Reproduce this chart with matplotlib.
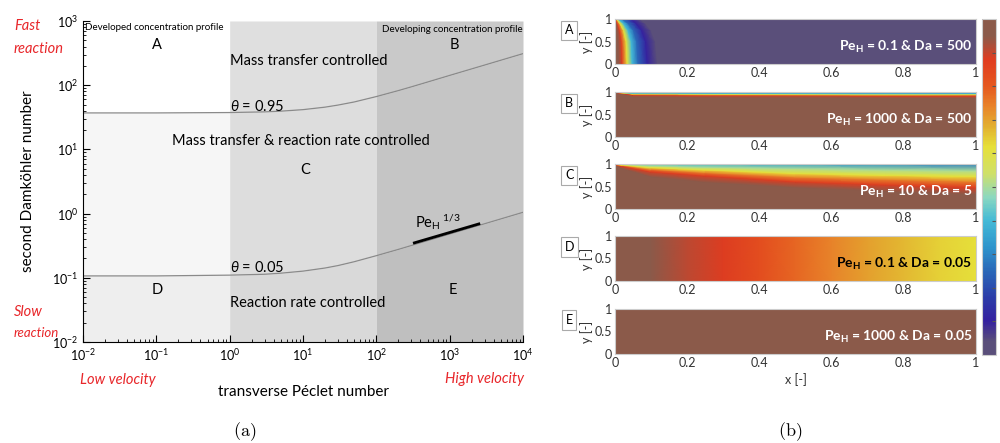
import numpy as np
import matplotlib
matplotlib.use("Agg")
import matplotlib.pyplot as plt
from matplotlib.colors import LinearSegmentedColormap

plt.rcParams['font.family'] = ['Lato', 'DejaVu Sans']
plt.rcParams['mathtext.fontset'] = 'custom'
plt.rcParams['mathtext.rm'] = 'Lato'
plt.rcParams['mathtext.it'] = 'Lato:italic'
plt.rcParams['mathtext.bf'] = 'Lato:bold'

# ---- (a) regime map data ----
pe = [0.01, 0.1, 1, 3, 5, 10, 20, 30, 50, 100, 200, 300, 500, 1000, 3000, 10000]
da_095 = [37, 37, 37.5, 38.4, 39.4, 41.6, 45.5, 49, 54.8, 66.5, 82.4, 94.2, 112, 142, 206, 310]
da_005 = [0.107, 0.107, 0.11, 0.1135, 0.118, 0.127, 0.142, 0.155, 0.178, 0.221, 0.277, 0.318,
          0.378, 0.479, 0.695, 1.047]
pe_slope = [330, 2500]
da_slope = [0.35, 0.69]

# ---- (b) concentration fields (value 1 = inlet, 0 = depleted) ----
# A: front position along x for each level, per height row
a_rows_y = [0, 0.5, 0.75, 0.9, 1.0]
a_levels = [1, 0.96, 0.88, 0.62, 0.4, 0.25, 0.1, 0.02, 0.0]
a_front_x = [
    [0, 0.010, 0.020, 0.034, 0.048, 0.064, 0.090, 0.118, 1],
    [0, 0.009, 0.018, 0.031, 0.045, 0.060, 0.085, 0.112, 1],
    [0, 0.006, 0.013, 0.024, 0.036, 0.051, 0.074, 0.100, 1],
    [0, 0.003, 0.007, 0.014, 0.024, 0.037, 0.059, 0.085, 1],
    [0, 0.0005, 0.0015, 0.004, 0.009, 0.02, 0.045, 0.07, 1],
]
# B: boundary layer at the top wall, height of each level per column
b_cols_x = [0, 0.05, 0.3, 1]
b_levels = [1, 1, 0.88, 0.62, 0.4]
b_top = [0.9, 0.3, 0.27, 0.25]
b_layer_y = [
    [0, 0, 0, 0],
    [0.99, 0.90, 0.88, 0.87],
    [0.994, 0.94, 0.925, 0.915],
    [0.997, 0.96, 0.95, 0.945],
    [0.999, 0.978, 0.972, 0.968],
]
# C
c_cols_x = [0, 0.02, 0.1, 0.25, 0.5, 0.75, 1.0]
c_levels = [1, 0.96, 0.88, 0.74, 0.62, 0.5]
c_top = [1, 0.55, 0.42, 0.38, 0.34, 0.31, 0.28]
c_layer_y = [
    [0, 0, 0, 0, 0, 0, 0],
    [0.985, 0.90, 0.72, 0.60, 0.48, 0.40, 0.33],
    [0.99, 0.95, 0.83, 0.74, 0.61, 0.54, 0.48],
    [0.993, 0.97, 0.88, 0.81, 0.71, 0.66, 0.61],
    [0.996, 0.98, 0.92, 0.87, 0.79, 0.75, 0.72],
    [0.998, 0.99, 0.96, 0.93, 0.90, 0.87, 0.85],
]
# D: varies along x only
d_x = [0, 0.1, 0.2, 0.3, 0.4, 0.5, 0.6, 0.7, 0.8, 0.9, 1.0]
d_c = [1, 0.96, 0.91, 0.88, 0.83, 0.78, 0.74, 0.70, 0.67, 0.64, 0.62]
# E: uniform
e_c = [[1, 1], [1, 1]]

panel_names = ['A', 'B', 'C', 'D', 'E']
panel_texts = [r'$\mathbf{Pe_H}$ = 0.1 & Da = 500', r'$\mathbf{Pe_H}$ = 1000 & Da = 500',
               r'$\mathbf{Pe_H}$ = 10 & Da = 5', r'$\mathbf{Pe_H}$ = 0.1 & Da = 0.05',
               r'$\mathbf{Pe_H}$ = 1000 & Da = 0.05']
panel_text_colors = ['white', 'white', 'white', 'black', 'white']

cmap = LinearSegmentedColormap.from_list('conc', [
    (0.0, '#5a4f7a'), (0.04, '#5a4f7a'), (0.10, '#3420a0'), (0.17, '#2c3ca8'),
    (0.25, '#2a68b8'), (0.32, '#2e94cc'), (0.40, '#44bad6'), (0.47, '#8cd8c0'),
    (0.54, '#cfe068'), (0.62, '#e6e03a'), (0.68, '#e2b030'), (0.74, '#e8842a'),
    (0.80, '#e5581f'), (0.88, '#e03c20'), (0.95, '#8b5a4a'), (1.0, '#8b5a4a')])

fig = plt.figure(figsize=(10, 4.43), dpi=100)

# ================= (a) =================
ax = fig.add_axes([0.083, 0.228, 0.44, 0.7246])
ax.set_xscale('log')
ax.set_yscale('log')
ax.set_xlim(1e-2, 1e4)
ax.set_ylim(1e-2, 1e3)

pe_a = np.array(pe)
lo = pe_a <= 1
mid = (pe_a >= 1) & (pe_a <= 100)
hi = pe_a >= 100
shades = [(lo, '#ffffff', '#f6f6f6', '#eeeeee'),
          (mid, '#dfdfdf', '#dddddd', '#d9d9d9'),
          (hi, '#c9c9c9', '#c5c5c5', '#bfbfbf')]
for m, top_c, mid_c, bot_c in shades:
    ax.fill_between(pe, da_095, 1e3, where=m, color=top_c, lw=0)
    ax.fill_between(pe, da_005, da_095, where=m, color=mid_c, lw=0)
    ax.fill_between(pe, 1e-2, da_005, where=m, color=bot_c, lw=0)

ax.plot(pe, da_095, color='#8a8a8a', lw=0.9)
ax.plot(pe, da_005, color='#8a8a8a', lw=0.9)
ax.plot(pe_slope, da_slope, color='black', lw=2)

fs = 10.5
ax.text(0.0106, 780, 'Developed concentration profile', fontsize=7, va='center')
ax.text(0.102, 423, 'A', fontsize=fs, ha='center', va='center')
ax.text(9800, 750, 'Developing concentration profile', fontsize=7, va='center', ha='right')
ax.text(1170, 423, 'B', fontsize=fs, ha='center', va='center')
ax.text(1, 238, 'Mass transfer controlled', fontsize=fs, va='center')
ax.text(1, 47, r'$\theta$ = 0.95', fontsize=fs, va='center')
ax.text(9.3, 13.5, 'Mass transfer & reaction rate controlled', fontsize=fs, ha='center', va='center')
ax.text(10.6, 4.8, 'C', fontsize=fs, ha='center', va='center')
ax.text(1, 0.147, r'$\theta$ = 0.05', fontsize=fs, va='center')
ax.text(0.102, 0.0646, 'D', fontsize=fs, ha='center', va='center')
ax.text(1, 0.0404, 'Reaction rate controlled', fontsize=fs, va='center')
ax.text(1100, 0.0646, 'E', fontsize=fs, ha='center', va='center')
ax.text(333, 0.74, r'$\mathrm{Pe_H}^{\ 1/3}$', fontsize=fs, va='center')

ax.spines['top'].set_visible(False)
ax.spines['right'].set_visible(False)
ax.tick_params(which='both', direction='in', labelsize=9)
ax.tick_params(which='major', length=5)
ax.tick_params(which='minor', length=2.5)
ax.set_xlabel('transverse Péclet number', fontsize=11, labelpad=16)
ax.set_ylabel('second Damköhler number', fontsize=11, labelpad=12)

red = '#e8262a'
fig.text(0.014, 0.941, 'Fast', color=red, style='italic', fontsize=10.5, va='center')
fig.text(0.014, 0.889, 'reaction', color=red, style='italic', fontsize=10.5, va='center')
fig.text(0.014, 0.295, 'Slow', color=red, style='italic', fontsize=10.5, va='center')
fig.text(0.014, 0.248, 'reaction', color=red, style='italic', fontsize=9.5, va='center')
fig.text(0.080, 0.142, 'Low velocity', color=red, style='italic', fontsize=10.5, va='center')
fig.text(0.524, 0.144, 'High velocity', color=red, style='italic', fontsize=10.5, va='center', ha='right')

fig.text(0.245, 0.025, r'$(\mathrm{a})$', fontsize=13, ha='center', va='center', math_fontfamily='cm')
fig.text(0.790, 0.025, r'$(\mathrm{b})$', fontsize=13, ha='center', va='center', math_fontfamily='cm')

# ================= (b) =================
bottoms = [0.8555, 0.6907, 0.5282, 0.3657, 0.2009]
axes_b = []
for i, b in enumerate(bottoms):
    axb = fig.add_axes([0.615, b, 0.361, 0.1016])
    axes_b.append(axb)

# A
X = np.array(a_front_x)
Y = np.repeat(np.array(a_rows_y)[:, None], X.shape[1], axis=1)
C = np.repeat(np.array(a_levels)[None, :], X.shape[0], axis=0)
mesh = axes_b[0].pcolormesh(X, Y, C, shading='gouraud', cmap=cmap, vmin=0, vmax=1)

# B
Y = np.vstack([b_layer_y, [1] * len(b_cols_x)])
X = np.repeat(np.array(b_cols_x)[None, :], Y.shape[0], axis=0)
C = np.vstack([np.repeat(np.array(b_levels)[:, None], len(b_cols_x), axis=1), b_top])
axes_b[1].pcolormesh(X, Y, C, shading='gouraud', cmap=cmap, vmin=0, vmax=1)

# C
Y = np.vstack([c_layer_y, [1] * len(c_cols_x)])
X = np.repeat(np.array(c_cols_x)[None, :], Y.shape[0], axis=0)
C = np.vstack([np.repeat(np.array(c_levels)[:, None], len(c_cols_x), axis=1), c_top])
axes_b[2].pcolormesh(X, Y, C, shading='gouraud', cmap=cmap, vmin=0, vmax=1)

# D
X, Y = np.meshgrid(d_x, [0, 1])
C = np.vstack([d_c, d_c])
axes_b[3].pcolormesh(X, Y, C, shading='gouraud', cmap=cmap, vmin=0, vmax=1)

# E
X, Y = np.meshgrid([0, 1], [0, 1])
axes_b[4].pcolormesh(X, Y, np.array(e_c), shading='gouraud', cmap=cmap, vmin=0, vmax=1)

for i, axb in enumerate(axes_b):
    axb.set_xlim(0, 1)
    axb.set_ylim(0, 1)
    axb.set_xticks([0, 0.2, 0.4, 0.6, 0.8, 1])
    axb.set_xticklabels(['0', '0.2', '0.4', '0.6', '0.8', '1'])
    axb.set_yticks([0, 0.5, 1])
    axb.set_yticklabels(['0', '0.5', '1'])
    axb.tick_params(length=0, labelsize=9, colors='#333333', pad=2)
    for s in axb.spines.values():
        s.set_color('#cccccc')
        s.set_linewidth(0.8)
    axb.set_ylabel('y [-]', fontsize=9, labelpad=1, color='#333333')
    axb.text(0.99, 0.38, panel_texts[i], transform=axb.transAxes, ha='right', va='center',
             fontsize=10, fontweight='bold', color=panel_text_colors[i])
    axb.text(-0.127, 0.75, panel_names[i], transform=axb.transAxes, ha='center', va='center',
             fontsize=9, bbox=dict(boxstyle='square,pad=0.3', fc='white', ec='#aaaaaa', lw=0.8))
axes_b[-1].set_xlabel('x [-]', fontsize=9, color='#333333', labelpad=3)

cax = fig.add_axes([0.982, 0.1986, 0.014, 0.7585])
cb = fig.colorbar(mesh, cax=cax)
cb.set_ticks(np.linspace(0.1, 0.9, 9))
cb.ax.set_yticklabels([])
cb.ax.tick_params(direction='in', length=3, color='#555555')
cb.outline.set_edgecolor('#cccccc')

fig.savefig('out.png', dpi=100)
